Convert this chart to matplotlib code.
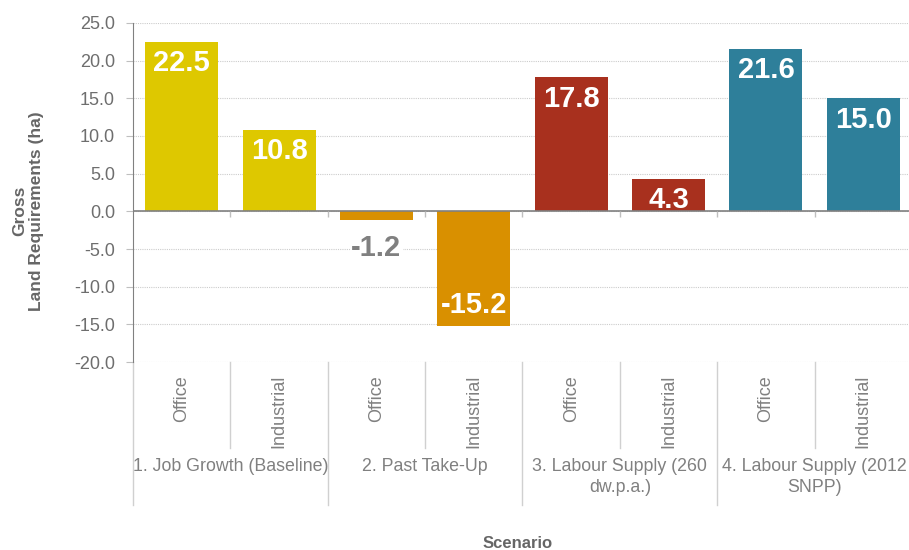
import numpy as np
import matplotlib.pyplot as plt
from matplotlib.transforms import blended_transform_factory

plt.rcParams['font.family'] = ['Liberation Sans', 'DejaVu Sans']

scenarios = ["1. Job Growth (Baseline)", "2. Past Take-Up",
             "3. Labour Supply (260\ndw.p.a.)", "4. Labour Supply (2012\nSNPP)"]
uses = ["Office", "Industrial"]
values = [22.5, 10.8, -1.2, -15.2, 17.8, 4.3, 21.6, 15.0]
scenario_colors = ["#DEC800", "#D99000", "#A8301E", "#2E7F9A"]

grey = "#808080"
x = np.arange(len(values))
colors = [c for c in scenario_colors for _ in uses]

fig = plt.figure(figsize=(9.09, 5.5), dpi=100)
ax = fig.add_axes([0.1463, 0.3418, 0.857, 0.6164])

ax.bar(x, values, width=0.75, color=colors, zorder=3)
ax.set_xlim(-0.5, 7.5)
ax.set_ylim(-20, 25)
ax.set_yticks(np.arange(-20, 26, 5))
ax.set_yticklabels([f"{v:.1f}" for v in np.arange(-20, 26, 5)], fontsize=13, color="#6e6e6e")
ax.yaxis.grid(True, linestyle=(0, (1, 1)), color="#cccccc", linewidth=0.8, zorder=0)
ax.set_xticks([])
ax.tick_params(axis='y', length=5, color="#bfbfbf", pad=8)
for s in ["top", "right", "bottom"]:
    ax.spines[s].set_visible(False)
ax.spines["left"].set_color(grey)
ax.axhline(0, color=grey, linewidth=1.2, zorder=4)
ax.vlines(np.arange(0.5, 7.5, 1), -0.7, 0, color="#bfbfbf", linewidth=1, zorder=4)

# value labels
for xi, v in zip(x, values):
    if abs(v) < 3:
        ax.annotate(f"{v:.1f}", (xi, v), xytext=(0, -20), textcoords="offset points",
                    ha="center", va="center", fontsize=21, fontweight="bold", color=grey,
                    bbox=dict(facecolor="white", edgecolor="none", pad=1), zorder=5)
    else:
        off = -15.5 if v > 0 else 15
        ax.annotate(f"{v:.1f}", (xi, v), xytext=(0, off), textcoords="offset points",
                    ha="center", va="center", fontsize=21, fontweight="bold", color="white",
                    zorder=5)

# category axis
tr = blended_transform_factory(ax.transData, ax.transAxes)
for xi in x:
    ax.text(xi, -0.038, uses[xi % 2], transform=tr, rotation=90, ha="center", va="top",
            fontsize=13, color=grey)
for b in np.arange(0.5, 7.5, 2):
    ax.plot([b, b], [0, -0.2537], transform=tr, color="#d0d0d0", linewidth=1, clip_on=False)
for b in np.arange(-0.5, 8, 2):
    ax.plot([b, b], [0, -0.4218], transform=tr, color="#d0d0d0", linewidth=1, clip_on=False)
for i, s in enumerate(scenarios):
    ax.text(2 * i + 0.5, -0.283, s, transform=tr, ha="center", va="top",
            fontsize=12.8, color=grey, linespacing=1.3)

fig.text(28 / 909, 1 - 211 / 550, "Gross\nLand Requirements (ha)", rotation=90,
         ha="center", va="center", fontsize=12.5, fontweight="bold", color="#666666")
fig.text(518 / 909, 1 - 543 / 550, "Scenario", ha="center", va="center",
         fontsize=12, fontweight="bold", color="#666666")

fig.savefig("out.png", dpi=100)
